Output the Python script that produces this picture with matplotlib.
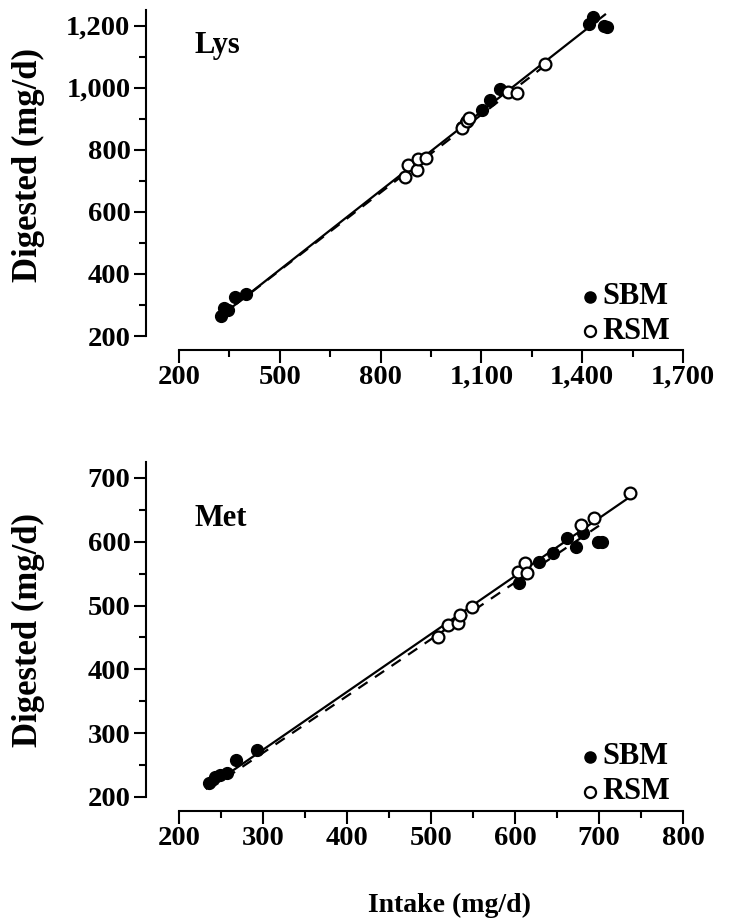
import matplotlib
matplotlib.use("Agg")
import matplotlib.pyplot as plt
import numpy as np

plt.rcParams['font.family'] = ['Liberation Serif', 'DejaVu Serif']
plt.rcParams['font.weight'] = 'bold'

# ---- Lys panel data ----
lys_sbm_x = [324, 334, 347, 367, 399, 1042, 1054, 1102, 1126, 1155, 1420, 1432, 1465, 1474]
lys_sbm_y = [265, 291, 284, 325, 335, 874, 890, 929, 961, 997, 1206, 1229, 1200, 1194]
lys_rsm_x = [873, 882, 908, 911, 935, 1042, 1057, 1063, 1179, 1206, 1289]
lys_rsm_y = [713, 752, 735, 771, 774, 871, 893, 903, 987, 984, 1077]
lys_solid = (-11.0, 0.849)   # intercept, slope
lys_solid_range = (322, 1468)
lys_dash = (-6.7, 0.836)
lys_dash_range = (322, 1289)

# ---- Met panel data ----
met_sbm_x = [236, 243, 249, 257, 268, 293, 605, 629, 645, 662, 673, 681, 699, 704]
met_sbm_y = [222, 231, 234, 238, 258, 273, 535, 568, 582, 606, 592, 614, 600, 600]
met_rsm_x = [508, 520, 532, 535, 549, 604, 612, 614, 678, 694, 737]
met_rsm_y = [451, 470, 473, 485, 498, 553, 567, 551, 627, 637, 676]
met_solid = (2.0, 0.907)
met_solid_range = (233, 737)
met_dash = (2.2, 0.890)
met_dash_range = (236, 700)

lys_xticks = [200, 500, 800, 1100, 1400, 1700]
lys_yticks = [200, 400, 600, 800, 1000, 1200]
met_xticks = [200, 300, 400, 500, 600, 700, 800]
met_yticks = [200, 300, 400, 500, 600, 700]

TICK_FS = 20.5
LAB_FS = 22
YLAB_FS = 25
XLAB_FS = 20

W, H = 731, 924
fig = plt.figure(figsize=(W / 100, H / 100), dpi=100)

def fr(x0, y_top, x1, y_bot):
    return [x0 / W, 1 - y_bot / H, (x1 - x0) / W, (y_bot - y_top) / H]

ax1 = fig.add_axes(fr(179, 10, 683, 336))
ax2 = fig.add_axes(fr(179, 462, 683, 797))

def fmt(v):
    return f"{v:,}"

def style(ax, xlim, ylim, xt, yt, xminor, yminor, left_off, bottom_off):
    ax.set_xlim(*xlim)
    ax.set_ylim(*ylim)
    for s in ['top', 'right']:
        ax.spines[s].set_visible(False)
    ax.spines['left'].set_position(('outward', left_off))
    ax.spines['bottom'].set_position(('outward', bottom_off))
    ax.spines['left'].set_linewidth(1.5)
    ax.spines['bottom'].set_linewidth(1.5)
    ax.set_xticks(xt)
    ax.set_xticklabels([fmt(v) for v in xt])
    ax.set_yticks(yt)
    ax.set_yticklabels([fmt(v) for v in yt])
    ax.set_xticks(xminor, minor=True)
    ax.set_yticks(yminor, minor=True)
    ax.tick_params(axis='both', which='major', direction='out', length=9, width=1.5,
                   labelsize=TICK_FS, pad=2)
    ax.tick_params(axis='both', which='minor', direction='out', length=5, width=1.5)
    ax.patch.set_visible(False)

style(ax1, (200, 1700), (200, 1250), lys_xticks, lys_yticks,
      np.arange(350, 1700, 300), np.arange(300, 1250, 200), 24, 10)
style(ax2, (200, 800), (200, 725), met_xticks, met_yticks,
      np.arange(250, 800, 100), np.arange(250, 725, 100), 24, 10)

def draw(ax, sx, sy, rx, ry, solid, srange, dash, drange):
    xs = np.array(srange, dtype=float)
    ax.plot(xs, solid[0] + solid[1] * xs, color='black', lw=1.6, zorder=2)
    xd = np.array(drange, dtype=float)
    ax.plot(xd, dash[0] + dash[1] * xd, color='black', lw=1.6, ls=(0, (5, 4)), zorder=2)
    ax.plot(sx, sy, 'o', color='black', ms=8.5, zorder=3, clip_on=False)
    ax.plot(rx, ry, 'o', mfc='white', mec='black', mew=1.6, ms=8.5, zorder=3, clip_on=False)

draw(ax1, lys_sbm_x, lys_sbm_y, lys_rsm_x, lys_rsm_y, lys_solid, lys_solid_range, lys_dash, lys_dash_range)
draw(ax2, met_sbm_x, met_sbm_y, met_rsm_x, met_rsm_y, met_solid, met_solid_range, met_dash, met_dash_range)

for ax, name, ny in [(ax1, 'Lys', 0.89), (ax2, 'Met', 0.83)]:
    ax.text(0.03, ny, name, transform=ax.transAxes, fontsize=LAB_FS, fontweight='bold',
            ha='left', va='center')
    ax.plot([0.815], [0.12], 'o', color='black', ms=8, transform=ax.transAxes, clip_on=False)
    ax.plot([0.815], [0.015], 'o', mfc='white', mec='black', mew=1.6, ms=8,
            transform=ax.transAxes, clip_on=False)
    ax.text(0.84, 0.12, 'SBM', transform=ax.transAxes, fontsize=LAB_FS, fontweight='bold',
            ha='left', va='center')
    ax.text(0.84, 0.015, 'RSM', transform=ax.transAxes, fontsize=LAB_FS, fontweight='bold',
            ha='left', va='center')

fig.text(28 / W, 1 - 165 / H, 'Digested (mg/d)', rotation=90, fontsize=YLAB_FS,
         fontweight='bold', ha='center', va='center')
fig.text(28 / W, 1 - 630 / H, 'Digested (mg/d)', rotation=90, fontsize=YLAB_FS,
         fontweight='bold', ha='center', va='center')
fig.text(450 / W, 1 - 905 / H, 'Intake (mg/d)', fontsize=XLAB_FS, fontweight='bold',
         ha='center', va='center')

fig.savefig('out.png', dpi=100)
